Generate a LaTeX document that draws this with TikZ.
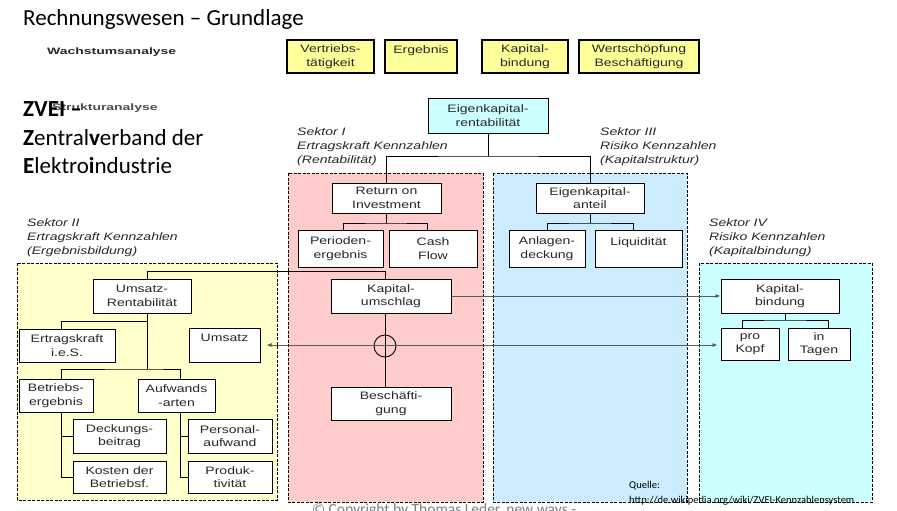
\documentclass[tikz,border=0pt]{standalone}
\usepackage{fontspec}
\usetikzlibrary{arrows.meta}
\newfontfamily\arl[FakeStretch=1.3]{Liberation Sans}
\newfontfamily\arli[FakeStretch=1.3]{Liberation Sans}
\newfontfamily\arlb[FakeStretch=1.5]{Liberation Sans}
\newfontfamily\carl{Carlito}
\definecolor{ytop}{HTML}{FFFF99}
\definecolor{spink}{HTML}{FFCCCC}
\definecolor{sblue}{HTML}{CCECFF}
\definecolor{syel}{HTML}{FFFFCC}
\definecolor{scyan}{HTML}{CCFFFF}
\definecolor{txt}{HTML}{282828}
\tikzset{
  box/.style={draw=black, line width=1pt, fill=white, inner sep=0pt, align=center,
    text=txt, font=\arl\fontsize{10.8}{13.5}\selectfont},
  topbox/.style={box, fill=ytop, line width=1.2pt},
  sector/.style={draw=black, line width=0.8pt, dash pattern=on 3pt off 1.5pt},
  conn/.style={draw=black, line width=0.9pt},
  gconn/.style={draw=black!65, line width=0.9pt},
  stxt/.style={anchor=north west, inner sep=0pt, align=left, text=txt,
    font=\arli\itshape\fontsize{10.8}{14}\selectfont},
  head/.style={anchor=west, inner sep=0pt, text=txt, font=\arlb\bfseries\fontsize{9.3}{11}\selectfont},
  tip/.style={-{Latex[length=5pt,width=4pt]}}
}
\begin{document}
\begin{tikzpicture}[x=1pt,y=-1pt]
\clip (0,0) rectangle (897,511);
\fill[white] (0,0) rectangle (897,511);

% sectors
\draw[sector, fill=syel] (17,263) rectangle (277,500);
\draw[sector, fill=spink] (288,173) rectangle (483,502);
\draw[sector, fill=sblue] (493,173) rectangle (687,502);
\draw[sector, fill=scyan] (699,263) rectangle (872,502);

% title and headings
\node[anchor=base west, inner sep=0pt, font=\carl\fontsize{23}{28}\selectfont] (title) at (23,26) {Rechnungswesen – Grundlage};
\node[head] (wachs) at (47,52) {Wachstumsanalyse};
\node[head, text=black!70] (struk) at (52,108.5) {Strukturanalyse};
\node[anchor=base west, inner sep=0pt, font=\carl\bfseries\fontsize{23}{28}\selectfont] (zvei) at (23,117) {ZVEI –};
\node[anchor=base west, inner sep=0pt, font=\carl\fontsize{23}{28}\selectfont] (zv2) at (23,145) {\textbf{Z}entral\textbf{v}erband der};
\node[anchor=base west, inner sep=0pt, font=\carl\fontsize{23}{28}\selectfont] (zv3) at (23,173) {\textbf{E}lektro\textbf{i}ndustrie};

% top boxes
\node[topbox, minimum width=87, minimum height=33] (vt) at (330.5,56.5) {Vertriebs-\\tätigkeit};
\node[topbox, minimum width=72, minimum height=33] (erg) at (421,56.5) {Ergebnis\\\mbox{}};
\node[topbox, minimum width=86, minimum height=33] (kb0) at (525,56.5) {Kapital-\\bindung};
\node[topbox, minimum width=120, minimum height=33] (ws) at (639,56.5) {Wertschöpfung\\Beschäftigung};

% sector labels
\node[stxt] (l1) at (297,127) {Sektor I\\Ertragskraft Kennzahlen\\(Rentabilität)};
\node[stxt] (l3) at (600,127) {Sektor III\\Risiko Kennzahlen\\(Kapitalstruktur)};
\node[stxt] (l2) at (27,218) {Sektor II\\Ertragskraft Kennzahlen\\(Ergebnisbildung)};
\node[stxt] (l4) at (709,218) {Sektor IV\\Risiko Kennzahlen\\(Kapitalbindung)};

% main tree
\node[box, fill=scyan, minimum width=120, minimum height=35] (ekr) at (488,115.5) {Eigenkapital-\\rentabilität};
\node[box, minimum width=109, minimum height=30] (roi) at (386.5,198) {Return on\\Investment};
\node[box, minimum width=85, minimum height=37] (per) at (340.5,248.5) {Perioden-\\ergebnis};
\node[box, minimum width=88, minimum height=37] (cf) at (433,248.5) {Cash\\Flow};
\node[box, minimum width=108, minimum height=30] (eka) at (590,198) {Eigenkapital-\\anteil};
\node[box, minimum width=76, minimum height=37] (anl) at (547,248.5) {Anlagen-\\deckung};
\node[box, minimum width=87, minimum height=37] (liq) at (638.5,248.5) {Liquidität\\\mbox{}};

\node[box, minimum width=120, minimum height=34] (ku) at (391,296) {Kapital-\\umschlag};
\node[box, minimum width=120, minimum height=33] (be) at (391,403.5) {Beschäfti-\\gung};

\node[box, minimum width=98, minimum height=34] (ur) at (142,296) {Umsatz-\\Rentabilität};
\node[box, minimum width=96, minimum height=33] (eie) at (67,345.5) {Ertragskraft\\i.e.S.};
\node[box, minimum width=71, minimum height=34] (ums) at (224.5,345) {Umsatz\\\mbox{}};
\node[box, minimum width=74, minimum height=33] (bet) at (56,395.5) {Betriebs-\\ergebnis};
\node[box, minimum width=77, minimum height=33] (auf) at (176.5,395.5) {Aufwands\\-arten};
\node[box, minimum width=93, minimum height=34] (db) at (119.5,436) {Deckungs-\\beitrag};
\node[box, minimum width=93, minimum height=32] (kdb) at (119.5,477) {Kosten der\\Betriebsf.};
\node[box, minimum width=84, minimum height=34] (pa) at (230,436) {Personal-\\aufwand};
\node[box, minimum width=84, minimum height=32] (pr) at (230,477) {Produk-\\tivität};

\node[box, minimum width=118, minimum height=34] (kbi) at (780,296) {Kapital-\\bindung};
\node[box, minimum width=58, minimum height=32] (pk) at (750,344) {pro\\Kopf};
\node[box, minimum width=62, minimum height=32] (it) at (819,344) {in\\Tagen};

% connectors: top tree
\coordinate (t1) at (488,156);
\draw[conn] (ekr) -- (t1);
\draw[conn] (roi.north) |- (t1) -| (eka.north);
\coordinate (b1) at (386.5,223);
\draw[conn] (roi) -- (b1);
\draw[conn] ([xshift=2.5]per.north) |- (b1) -| ([xshift=-6]cf.north);
\coordinate (b2) at (590,223);
\draw[conn] (eka) -- (b2);
\draw[conn] (anl.north) |- (b2) -| ([xshift=-5.5]liq.north);

% Umsatz-Rentabilitaet to Kapitalumschlag
\draw[conn] ([xshift=5]ur.north) -- ++(0,-7) -| ([xshift=-6]ku.north);

% Kapitalumschlag to Beschaeftigung with circle
\draw[conn] ([xshift=-6]ku.south) -- ([xshift=-6]be.north);
\node[circle, draw=black, line width=0.9pt, minimum size=22pt, inner sep=0pt] (cross) at (385,346) {};

% arrows to sector IV and Umsatz
\draw[gconn, tip] (ku.east) -- (kbi.west);
\draw[gconn, {Latex[length=5pt,width=4pt]}-{Latex[length=5pt,width=4pt]}, shorten <=6pt, shorten >=3pt] (ums.east) -- (ums.east -| pk.west);

% sector II tree
\coordinate (u1) at (147,321);
\coordinate (u2) at (147,369);
\draw[conn] ([xshift=5]ur.south) -- (u2);
\draw[conn] (u1) -| ([xshift=-6]eie.north);
\draw[conn] ([xshift=5]bet.north) |- (u2) -| ([xshift=3.5]auf.north);
\draw[conn] ([xshift=5]bet.south) |- (kdb.west);
\draw[conn] ([xshift=5]bet.south |- db.west) -- (db.west);
\draw[conn] ([xshift=3.5]auf.south) |- (pr.west);
\draw[conn] ([xshift=3.5]auf.south |- pa.west) -- (pa.west);

% sector IV tree
\coordinate (k1) at (785,320);
\draw[conn] (kbi.south -| k1) -- (k1);
\draw[conn] ([xshift=-8]pk.north) |- (k1) -| ([xshift=9]it.north);

% source and copyright
\node[anchor=base west, inner sep=0pt, font=\carl\fontsize{10.5}{11}\selectfont] (q1) at (629,488) {Quelle:};
\node[anchor=base west, inner sep=0pt, font=\carl\fontsize{10.5}{11}\selectfont] (q2) at (629,503) {http://de.wikipedia.org/wiki/ZVEI-Kennzahlensystem};
\node[anchor=base west, inner sep=0pt, text=black!50, font=\carl\fontsize{15.5}{18}\selectfont] (copy) at (312,514) {© Copyright by Thomas Leder, new ways -};
\end{tikzpicture}
\end{document}
